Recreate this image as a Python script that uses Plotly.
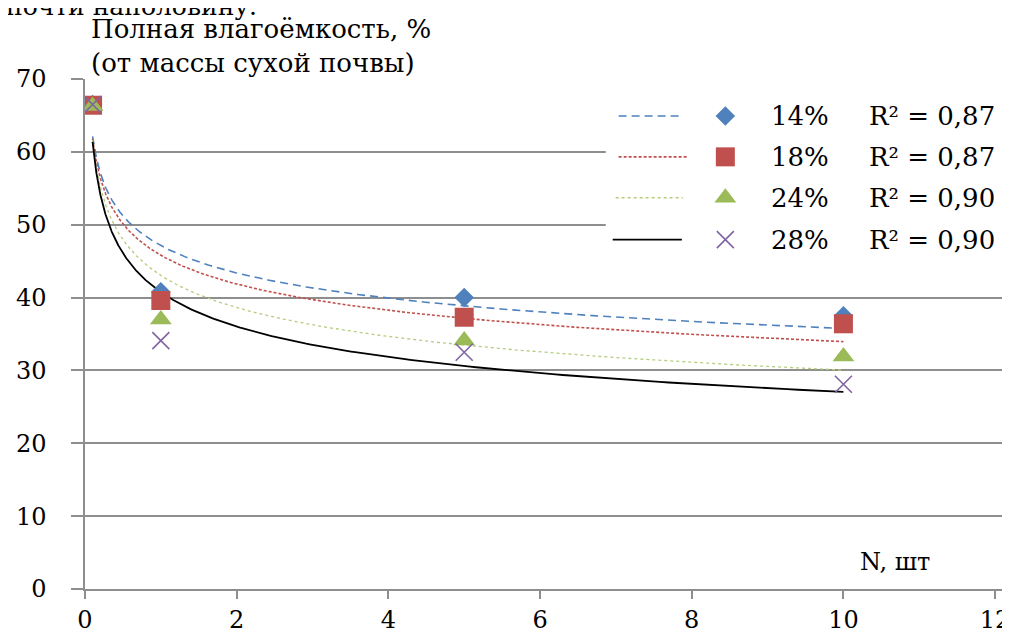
import numpy as np
import plotly.graph_objects as go

# ---------------- data ----------------
n_values = [0.1, 1, 5, 10]
series_names = ["14%", "18%", "24%", "28%"]
y14 = [66.5, 40.8, 40.0, 37.5]
y18 = [66.4, 39.6, 37.3, 36.4]
y24 = [66.3, 37.0, 34.1, 31.9]
y28 = [66.5, 34.1, 32.5, 28.1]
r2_labels = ["0,87", "0,87", "0,90", "0,90"]
x_ticks = [0, 2, 4, 6, 8, 10, 12]
y_ticks = [0, 10, 20, 30, 40, 50, 60, 70]

series_values = [y14, y18, y24, y28]

# ---------------- styles ----------------
W, H = 1010, 634
OFF = 8                      # page body margin offset
PL, PR, PT, PB = 80, 1010, 79, 590   # plot area in page pixels
L, T = PL - OFF, PT - OFF
R = W - (PR - OFF)
B = H - (PB - OFF)
FONT = "DejaVu Serif"
GRID = "#8E8E8E"

colors = ["#4F81BD", "#C0504D", "#9BBB59", "#8064A2"]
symbols = ["diamond", "square", "triangle-up", "x-thin"]
msizes = [15, 19, 19, 17]
trend_colors = ["#4F81BD", "#C0504D", "#B5CC7F", "#000000"]
trend_dash = ["8px,5px", "3px,2px", "dot", "solid"]
trend_width = [1.6, 1.6, 1.3, 1.8]


def fx(px):
    return (px - PL) / (PR - PL)


def fy(py):
    return (PB - py) / (PB - PT)


def marker_style(i):
    m = dict(symbol=symbols[i], size=msizes[i], color=colors[i])
    if symbols[i] == "x-thin":
        m["line"] = dict(color=colors[i], width=1.6)
    else:
        m["line"] = dict(width=0)
    return m


fig = go.Figure()

# white box behind the legend (drawn as a filled trace on the overlay axes)
fig.add_trace(go.Scatter(
    x=[fx(607), 1.0, 1.0, fx(607), fx(607)],
    y=[fy(266), fy(266), fy(88), fy(88), fy(266)],
    mode="lines", fill="toself", fillcolor="white", line=dict(width=0),
    xaxis="x2", yaxis="y2", showlegend=False, hoverinfo="skip"))

# trendlines (power fit, as in the original spreadsheet chart)
for i, ys in enumerate(series_values):
    k, lnc = np.polyfit(np.log(n_values), np.log(ys), 1)
    xs = np.geomspace(min(n_values), max(n_values), 300)
    fig.add_trace(go.Scatter(
        x=xs, y=np.exp(lnc) * xs ** k, mode="lines",
        line=dict(color=trend_colors[i], dash=trend_dash[i], width=trend_width[i]),
        showlegend=False, hoverinfo="skip"))

# data points
for i, ys in enumerate(series_values):
    fig.add_trace(go.Scatter(
        x=n_values, y=ys, mode="markers", marker=marker_style(i),
        name=series_names[i], showlegend=False))

# ---------------- hand-drawn legend ----------------
rows = [116, 157, 198, 240]
line_spans = [(620, 685), (620, 690), (617, 685), (614, 684)]
for i in range(4):
    fig.add_trace(go.Scatter(
        x=[fx(line_spans[i][0]), fx(line_spans[i][1])], y=[fy(rows[i])] * 2,
        mode="lines", xaxis="x2", yaxis="y2",
        line=dict(color=trend_colors[i], dash=trend_dash[i], width=trend_width[i]),
        showlegend=False, hoverinfo="skip"))
    fig.add_trace(go.Scatter(
        x=[fx(728)], y=[fy(rows[i])], mode="markers", xaxis="x2", yaxis="y2",
        marker=marker_style(i), showlegend=False, hoverinfo="skip"))

annotations = []
for i in range(4):
    annotations.append(dict(
        x=fx(772), y=fy(rows[i]), xref="paper", yref="paper",
        xanchor="left", yanchor="middle", showarrow=False,
        text=series_names[i],
        font=dict(family=FONT, size=26, color="black")))
    annotations.append(dict(
        x=fx(1003), y=fy(rows[i]), xref="paper", yref="paper",
        xanchor="right", yanchor="middle", showarrow=False,
        text=f"R² = {r2_labels[i]}",
        font=dict(family=FONT, size=26, color="black")))

# axis titles
annotations.append(dict(
    x=fx(84), y=fy(12), xref="paper", yref="paper", xanchor="left", yanchor="top",
    showarrow=False, align="left",
    text="Полная влагоёмкость, %<br>(от массы сухой почвы)",
    font=dict(family=FONT, size=26, color="black")))
annotations.append(dict(
    x=fx(862), y=fy(563), xref="paper", yref="paper", xanchor="left", yanchor="middle",
    showarrow=False, text="N, шт",
    font=dict(family=FONT, size=24, color="black")))
# fragment of the surrounding document text, cut off at the top
annotations.append(dict(
    x=fx(-2), y=fy(23), xref="paper", yref="paper", xanchor="left", yanchor="bottom",
    showarrow=False, text="почти наполовину.",
    font=dict(family=FONT, size=25, color="black")))

fig.update_layout(
    width=W, height=H,
    margin=dict(l=L, r=R, t=T, b=B),
    paper_bgcolor="white", plot_bgcolor="white",
    showlegend=False,
    annotations=annotations,
    xaxis=dict(
        range=[0, 12 * (PR - PL) / 921], tickvals=x_ticks, ticktext=[str(v) for v in x_ticks],
        showgrid=False, zeroline=False, showline=True, linecolor=GRID, linewidth=1.5,
        ticks="outside", ticklen=8, tickcolor=GRID, tickwidth=1.5,
        tickfont=dict(family=FONT, size=24, color="black")),
    yaxis=dict(
        range=[0, 70], tickvals=y_ticks, ticktext=[str(v) for v in y_ticks],
        showgrid=True, gridcolor=GRID, gridwidth=1.5, zeroline=False,
        showline=True, linecolor=GRID, linewidth=1.5,
        ticks="outside", ticklen=12, tickcolor=GRID, tickwidth=1.5,
        ticklabelstandoff=20,
        tickfont=dict(family=FONT, size=24, color="black")),
    xaxis2=dict(range=[0, 1], overlaying="x", visible=False, anchor="y2"),
    yaxis2=dict(range=[0, 1], overlaying="y", visible=False, anchor="x2"),
)

fig.write_html("out.html")
